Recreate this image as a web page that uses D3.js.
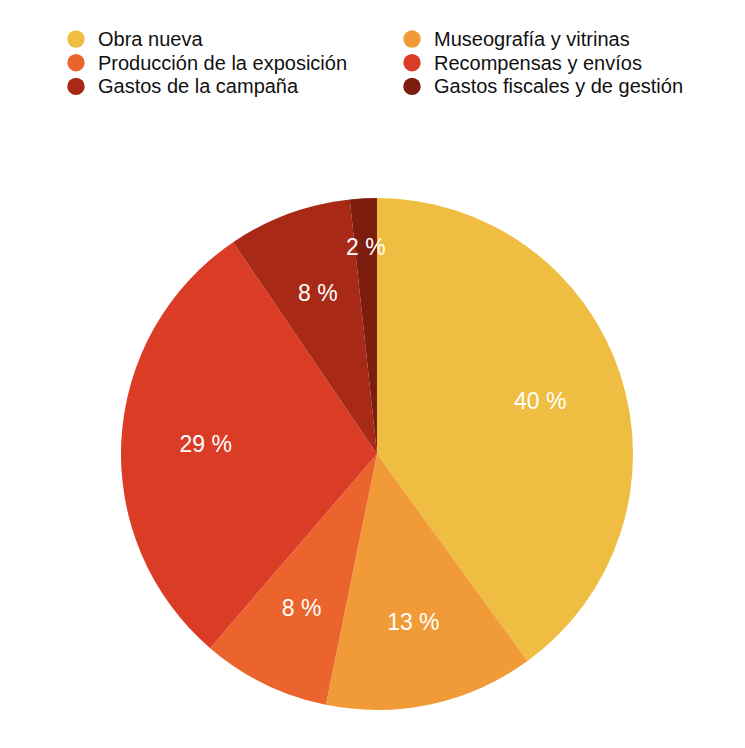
<!DOCTYPE html>
<html>
<head>
<meta charset="utf-8">
<script src="https://cdn.jsdelivr.net/npm/d3@7"></script>
<style>
  html, body { margin: 0; padding: 0; background: #fff; }
  svg { display: block; font-family: "Liberation Sans", Arial, Helvetica, sans-serif; }
</style>
</head>
<body>
<div id="chart"></div>
<script>
// chart data (shares, labels are rounded)
const categories = [
    'Obra nueva',
    'Museografía y vitrinas',
    'Producción de la exposición',
    'Recompensas y envíos',
    'Gastos de la campaña',
    'Gastos fiscales y de gestión'
];
const values = [40.0, 13.2, 8.1, 29.2, 7.8, 1.7];
const colors = ['#eebd41', '#f09b37', '#ec642d', '#db3c26', '#a72916', '#7d1d0f'];

const width = 745;
const height = 748;
const cx = 377;
const cy = 454;
const radius = 256;

const data = categories.map((c, i) => ({ category: c, value: values[i] }));

const svg = d3.select('#chart').append('svg')
    .attr('width', width)
    .attr('height', height)
    .attr('viewBox', `0 0 ${width} ${height}`);

const color = d3.scaleOrdinal()
    .domain(categories)
    .range(colors);

// legend, two columns filled row by row
const legend = svg.append('g')
    .selectAll('g')
    .data(data)
    .join('g')
        .attr('transform', (d, i) => `translate(${i % 2 ? 412 : 76}, ${39 + Math.floor(i / 2) * 23.7})`);

legend.append('circle')
    .attr('r', 8.7)
    .attr('fill', d => color(d.category));

legend.append('text')
    .attr('x', 22)
    .attr('dy', '0.35em')
    .attr('font-size', '20px')
    .attr('fill', '#111')
    .text(d => d.category);

// pie
const pie = d3.pie()
    .sort(null)
    .value(d => d.value);

const arc = d3.arc()
    .innerRadius(0)
    .outerRadius(radius);

const labelArc = d3.arc()
    .innerRadius(radius * 0.67)
    .outerRadius(radius * 0.67);

// tiny slices push the label further out
const smallLabelArc = d3.arc()
    .innerRadius(radius * 0.81)
    .outerRadius(radius * 0.81);

const arcs = pie(data);

const g = svg.append('g')
    .attr('transform', `translate(${cx}, ${cy})`);

g.append('g')
    .selectAll('path')
    .data(arcs)
    .join('path')
        .attr('fill', d => color(d.data.category))
        .attr('d', arc)
    .append('title')
        .text(d => `${d.data.category}: ${Math.round(d.data.value)} %`);

g.append('g')
        .attr('text-anchor', 'middle')
        .attr('fill', '#fff')
        .attr('font-size', '23px')
    .selectAll('text')
    .data(arcs)
    .join('text')
        .attr('transform', d => {
            const a = (d.endAngle - d.startAngle) < 0.2 ? smallLabelArc : labelArc;
            return `translate(${a.centroid(d)})`;
        })
        .attr('dy', '0.35em')
        .text(d => `${Math.round(d.data.value)} %`);
</script>
</body>
</html>
